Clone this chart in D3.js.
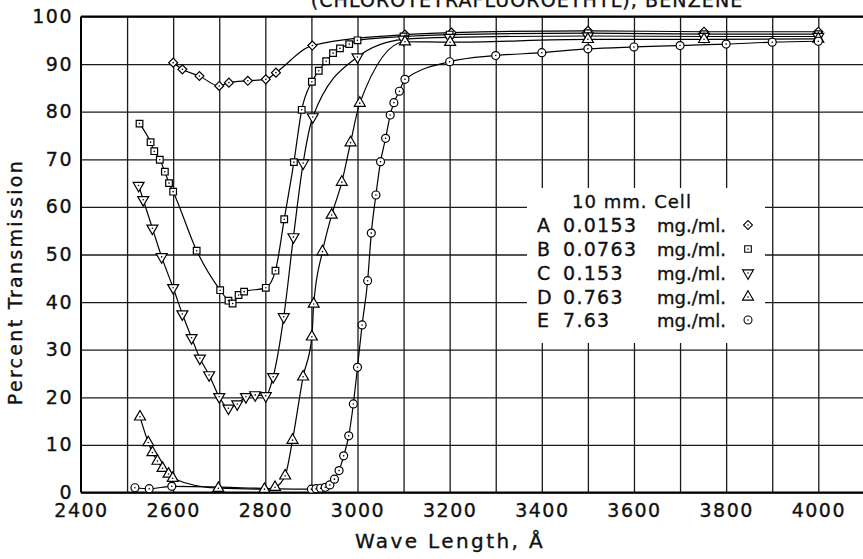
<!DOCTYPE html>
<html>
<head>
<meta charset="utf-8">
<script src="https://cdn.jsdelivr.net/npm/d3@7"></script>
<style>
  html, body { margin: 0; padding: 0; background: #fff; }
  svg { display: block; }
  text { font-family: "DejaVu Sans", sans-serif; fill: #111; stroke: #111; stroke-width: 0.35px; }
</style>
</head>
<body>
<svg id="chart" width="863" height="559"></svg>
<script>
// ---------- data ----------
const titleText = "(CHLOROTETRAFLUOROETHYL), BENZENE";
const xTickLabels = [2400, 2600, 2800, 3000, 3200, 3400, 3600, 3800, 4000];
const yTickLabels = [0, 10, 20, 30, 40, 50, 60, 70, 80, 90, 100];
const xGrid = [2500,2600,2700,2800,2900,3000,3100,3200,3300,3400,3500,3600,3700,3800,3900,4000];

const seriesLetters = ["A", "B", "C", "D", "E"];
const seriesConc = ["0.0153", "0.0763", "0.153", "0.763", "7.63"];
const seriesSymbols = ["diamond", "square", "triDown", "triUp", "circle"];

const waveA  = [2600, 2620, 2657, 2700, 2721, 2762, 2801, 2823, 2902, 3103, 3204, 3500, 3752, 4000];
const transA = [90.3, 88.9, 87.5, 85.4, 86.1, 86.5, 86.8, 88.2, 93.9, 96.2, 96.6, 97.0, 96.8, 96.8];

const waveB  = [2527, 2551, 2559, 2571, 2582, 2591, 2600, 2651, 2702, 2720, 2729, 2742, 2754, 2801, 2822, 2841, 2862, 2879, 2901, 2916, 2932, 2947, 2962, 2982, 3000, 3100, 3200, 3500, 3752, 4000];
const transB = [77.5, 73.6, 71.7, 69.9, 67.4, 65.0, 63.2, 50.8, 42.5, 40.3, 39.7, 41.5, 42.2, 43.0, 46.6, 57.4, 69.4, 80.4, 86.3, 88.6, 90.6, 92.3, 93.3, 94.2, 95.0, 95.8, 96.2, 96.5, 96.3, 96.3];

const waveC  = [2525, 2535, 2555, 2575, 2600, 2620, 2640, 2658, 2678, 2700, 2720, 2739, 2758, 2778, 2801, 2817, 2840, 2861, 2882, 2903, 3000, 3100, 3200, 3500, 3752, 4000];
const transC = [64.5, 61.5, 55.5, 49.5, 43.0, 37.5, 32.5, 28.2, 24.7, 20.1, 17.7, 18.6, 20.1, 20.5, 20.3, 24.3, 36.9, 53.7, 69.2, 78.9, 91.5, 95.2, 95.6, 95.9, 95.8, 95.8];

const waveD  = [2528, 2546, 2555, 2566, 2577, 2590, 2599, 2698, 2798, 2821, 2843, 2859, 2882, 2901, 2905, 2924, 2944, 2966, 2985, 3005, 3103, 3201, 3500, 3752, 4000];
const transD = [15.9, 10.5, 8.4, 6.6, 5.1, 3.9, 3.0, 0.9, 0.7, 1.1, 3.5, 11.0, 24.3, 32.7, 39.6, 50.6, 58.3, 65.2, 73.5, 81.8, 94.7, 94.6, 95.2, 95.2, 95.3];

const waveE  = [2517, 2548, 2597, 2900, 2910, 2920, 2930, 2940, 2950, 2960, 2970, 2981, 2991, 3000, 3010, 3022, 3030, 3040, 3050, 3061, 3071, 3079, 3091, 3103, 3200, 3300, 3400, 3500, 3600, 3700, 3800, 3900, 4000];
const transE = [1.0, 0.8, 1.3, 0.7, 0.8, 0.9, 1.1, 1.6, 2.8, 4.6, 7.7, 11.9, 18.6, 26.3, 35.2, 44.5, 54.5, 62.5, 69.5, 74.4, 79.3, 81.9, 84.3, 86.8, 90.5, 91.8, 92.4, 93.2, 93.6, 93.9, 94.2, 94.6, 94.8];

const allWaves = [waveA, waveB, waveC, waveD, waveE];
const allTrans = [transA, transB, transC, transD, transE];

// ---------- scales ----------
const svg = d3.select("#chart");
const W = 863, H = 559;
const x = d3.scaleLinear().domain([2400, 4000]).range([81, 818.3]);
const y = d3.scaleLinear().domain([0, 100]).range([492.5, 16.5]);

// ---------- grid ----------
const gridColor = "#1a1a1a";
const gV = svg.append("g").attr("transform", `translate(0,${y(0)})`)
  .call(d3.axisBottom(x).tickValues(xGrid).tickSize(-(y(0) - y(100))).tickFormat(""));
gV.select(".domain").remove();
gV.selectAll("line").attr("stroke", gridColor).attr("stroke-width", 1.3);

const gH = svg.append("g").attr("transform", `translate(${x(2400)},0)`)
  .call(d3.axisLeft(y).tickValues(yTickLabels).tickSize(-(W - x(2400))).tickFormat(""));
gH.select(".domain").remove();
gH.selectAll("line").attr("stroke", gridColor).attr("stroke-width", 1.3);

// axes frame
svg.append("line").attr("x1", x(2400)).attr("x2", x(2400)).attr("y1", y(100)).attr("y2", y(0))
  .attr("stroke", "#000").attr("stroke-width", 2);
svg.append("line").attr("x1", x(2400)).attr("x2", W).attr("y1", y(0)).attr("y2", y(0))
  .attr("stroke", "#000").attr("stroke-width", 2);
svg.append("line").attr("x1", x(2400)).attr("x2", W).attr("y1", y(100)).attr("y2", y(100))
  .attr("stroke", "#000").attr("stroke-width", 1.8);

// ---------- axis labels ----------
const ax = svg.append("g").attr("transform", `translate(0,${y(0)})`)
  .call(d3.axisBottom(x).tickValues(xTickLabels).tickSize(0).tickFormat(d3.format("d")));
ax.select(".domain").remove();
ax.selectAll("text").attr("y", 24.5).attr("dy", 0)
  .style("font-size", "19px").style("letter-spacing", "1.5px").attr("fill", "#111");

const ay = svg.append("g").attr("transform", `translate(${x(2400)},0)`)
  .call(d3.axisLeft(y).tickValues(yTickLabels).tickSize(0).tickPadding(8).tickFormat(d3.format("d")));
ay.select(".domain").remove();
ay.selectAll("text").style("font-size", "19px").style("letter-spacing", "1.5px").attr("fill", "#111");

// titles
svg.append("text").attr("x", 527).attr("y", 7).attr("text-anchor", "middle")
  .style("font-size", "19px").style("letter-spacing", "1.1px").text(titleText);

svg.append("text").attr("transform", "translate(22,282) rotate(-90)").attr("text-anchor", "middle")
  .style("font-size", "19px").style("letter-spacing", "2.3px").text("Percent Transmission");

svg.append("text").attr("x", 450).attr("y", 548).attr("text-anchor", "middle")
  .style("font-size", "20px").style("letter-spacing", "2.4px").text("Wave Length, Å");

// ---------- symbols ----------
function symPath(kind) {
  if (kind === "diamond") return { d: d3.symbol(d3.symbolSquare, 40)(), rot: 45 };
  if (kind === "square") return { d: d3.symbol(d3.symbolSquare, 44)(), rot: 0 };
  if (kind === "triUp") return { d: d3.symbol(d3.symbolTriangle, 52)(), rot: 0 };
  if (kind === "triDown") return { d: d3.symbol(d3.symbolTriangle, 52)(), rot: 180 };
  return { d: d3.symbol(d3.symbolCircle, 50)(), rot: 0 };
}

// ---------- curves ----------
const line = d3.line().x(d => x(d[0])).y(d => y(d[1])).curve(d3.curveMonotoneX);
const plot = svg.append("g");
allWaves.forEach((ws, i) => {
  const pts = ws.map((w, j) => [w, allTrans[i][j]]);
  plot.append("path").datum(pts).attr("d", line)
    .attr("fill", "none").attr("stroke", "#000").attr("stroke-width", 1.2);
});
allWaves.forEach((ws, i) => {
  const pts = ws.map((w, j) => [w, allTrans[i][j]]);
  const s = symPath(seriesSymbols[i]);
  const g = plot.selectAll(null).data(pts).enter().append("g")
    .attr("transform", d => `translate(${x(d[0])},${y(d[1])})`);
  g.append("path").attr("d", s.d).attr("transform", `rotate(${s.rot})`)
    .attr("fill", "#fff").attr("stroke", "#000").attr("stroke-width", 1.2);
  g.append("circle").attr("r", 0.8).attr("fill", "#000");
});

// ---------- legend ----------
const lg = svg.append("g");
lg.append("rect").attr("x", 527).attr("y", 188).attr("width", 238).attr("height", 155).attr("fill", "#fff");
lg.append("text").attr("x", 632).attr("y", 208).attr("text-anchor", "middle")
  .style("font-size", "18px").style("letter-spacing", "1px").text("10 mm. Cell");
const rowY = [232, 256, 280, 304, 327];
seriesLetters.forEach((L, i) => {
  const ry = rowY[i];
  lg.append("text").attr("x", 537).attr("y", ry).style("font-size", "19px").text(L);
  lg.append("text").attr("x", 563).attr("y", ry).style("font-size", "19px").style("letter-spacing", "1.3px").text(seriesConc[i]);
  lg.append("text").attr("x", 657).attr("y", ry).style("font-size", "18px").text("mg./ml.");
  const s = symPath(seriesSymbols[i]);
  const g = lg.append("g").attr("transform", `translate(748,${ry - 7})`);
  g.append("path").attr("d", s.d).attr("transform", `rotate(${s.rot})`)
    .attr("fill", "#fff").attr("stroke", "#000").attr("stroke-width", 1.1);
  g.append("circle").attr("r", 0.8).attr("fill", "#000");
});
</script>
</body>
</html>
